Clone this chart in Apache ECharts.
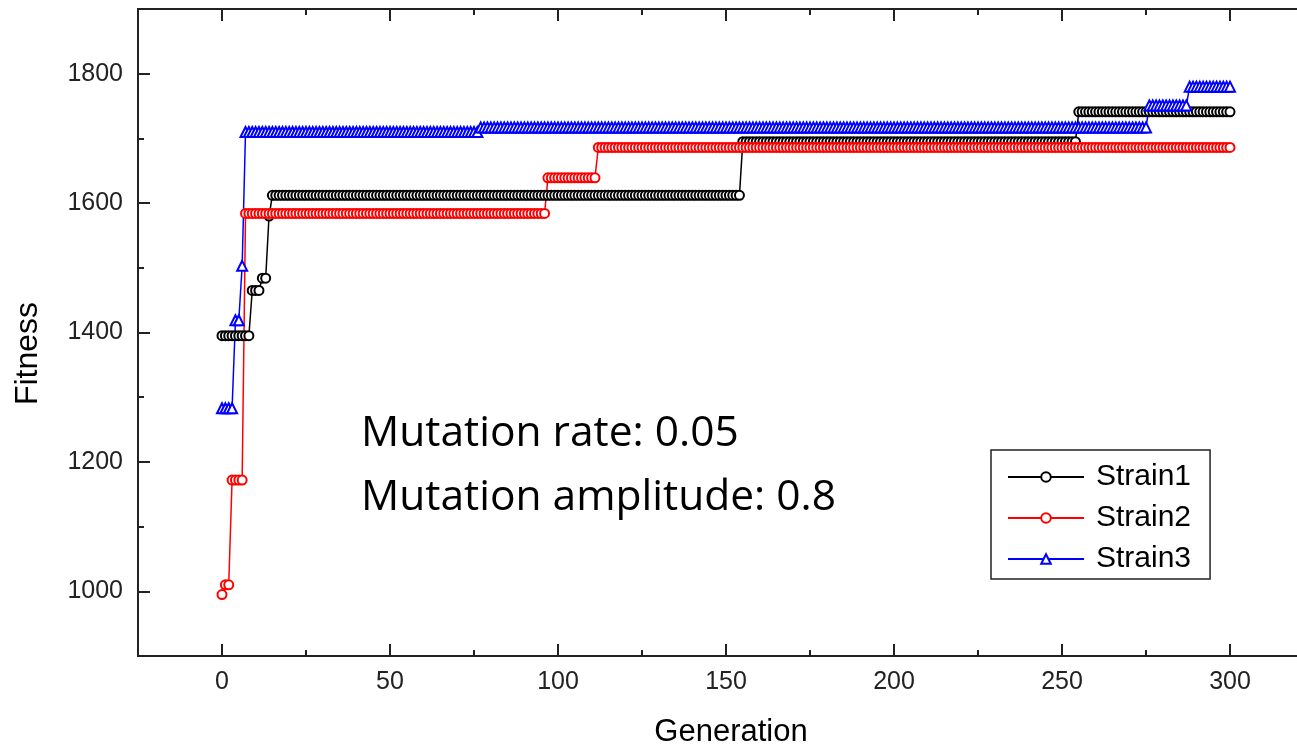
<!DOCTYPE html>
<html>
<head>
<meta charset="utf-8">
<script src="https://cdn.jsdelivr.net/npm/echarts@6/dist/echarts.min.js"></script>
<style>
html,body{margin:0;padding:0;background:#fff;}
#chart{width:1297px;height:746px;}
</style>
</head>
<body>
<div id="chart"></div>
<script>
// Generations plotted (one marker per generation)
const lastGeneration = 300;
// Step runs: generation where a level starts, and its fitness
const strain1Start = [0, 9, 12, 14, 15, 155, 255];
const strain1Value = [1395, 1465, 1484, 1580, 1612, 1695, 1741];
const strain2Start = [0, 1, 3, 7, 97, 112];
const strain2Value = [995, 1010, 1172, 1584, 1639, 1686];
const strain3Start = [0, 4, 6, 7, 77, 276, 288];
const strain3Value = [1283, 1419, 1503, 1710, 1717, 1751, 1780];

const seriesNames = ['Strain1', 'Strain2', 'Strain3'];
const xMajorTicks = [0, 50, 100, 150, 200, 250, 300];
const xMinorTicks = [25, 75, 125, 175, 225, 275];
const yMajorTicks = [1000, 1200, 1400, 1600, 1800];
const yMinorTicks = [1100, 1300, 1500, 1700];
const annotation = ['Mutation rate: 0.05', 'Mutation amplitude: 0.8'];

function expandRuns(starts, values) {
  const out = [];
  for (let g = 0; g <= lastGeneration; g++) {
    let k = 0;
    while (k + 1 < starts.length && starts[k + 1] <= g) k++;
    out.push([g, values[k]]);
  }
  return out;
}

const axisColor = '#222';
const fontFam = '"Liberation Sans", Arial, sans-serif';
const XMIN = -25, XMAX = 325, YMIN = 900, YMAX = 1900;
const plain = function (v) { return String(v); };

function xAx(pos, ticks, len, labels) {
  return {
    type: 'value', position: pos, min: XMIN, max: XMAX,
    axisLine: { show: true, onZero: false, lineStyle: { color: axisColor, width: 2 } },
    axisTick: { show: true, inside: true, length: len, customValues: ticks, lineStyle: { color: axisColor, width: 2 } },
    axisLabel: labels ? { show: true, customValues: ticks, formatter: plain, margin: 14, fontSize: 25, color: '#222', fontFamily: fontFam } : { show: false },
    splitLine: { show: false }
  };
}
function yAx(ticks, len, labels) {
  return {
    type: 'value', position: 'left', min: YMIN, max: YMAX,
    axisLine: { show: true, onZero: false, lineStyle: { color: axisColor, width: 2 } },
    axisTick: { show: true, inside: true, length: len, customValues: ticks, lineStyle: { color: axisColor, width: 2 } },
    axisLabel: labels ? { show: true, customValues: ticks, formatter: plain, margin: 15, fontSize: 25, color: '#222', fontFamily: fontFam } : { show: false },
    splitLine: { show: false }
  };
}

const xMain = xAx('bottom', xMajorTicks, 12, true);
xMain.name = 'Generation';
xMain.nameLocation = 'middle';
xMain.nameGap = 61;
xMain.nameTextStyle = { fontSize: 31, color: '#000', fontFamily: fontFam, padding: [0, 0, 0, 10] };

const yMain = yAx(yMajorTicks, 12, true);
yMain.name = 'Fitness';
yMain.nameLocation = 'middle';
yMain.nameRotate = 90;
yMain.nameGap = 94;
yMain.nameTextStyle = { fontSize: 32, color: '#000', fontFamily: fontFam, padding: [0, 42, 0, 0] };

function lineSeries(name, data, color, symbol, size) {
  return {
    name: name, type: 'line', xAxisIndex: 0, yAxisIndex: 0,
    data: data,
    symbol: symbol, symbolSize: size, showSymbol: true, showAllSymbol: true,
    lineStyle: { color: color, width: 1.5 },
    itemStyle: { color: color, borderWidth: 1 },
    emphasis: { disabled: true },
    animation: false
  };
}

const chart = echarts.init(document.getElementById('chart'), null, { renderer: 'canvas' });
chart.setOption({
  backgroundColor: '#fff',
  animation: false,
  grid: { left: 138, top: 9, right: -17, bottom: 90, containLabel: false, outerBoundsMode: 'none' },
  xAxis: [xMain, xAx('bottom', xMinorTicks, 6, false), xAx('top', xMajorTicks, 12, false), xAx('top', xMinorTicks, 6, false)],
  yAxis: [yMain, yAx(yMinorTicks, 6, false)],
  legend: {
    orient: 'vertical', left: 991, top: 450,
    data: seriesNames,
    itemWidth: 76, itemHeight: 12, itemGap: 11,
    padding: [12, 19, 5, 16],
    borderColor: '#222', borderWidth: 1.5,
    textStyle: { fontSize: 30, lineHeight: 30, color: '#000', fontFamily: fontFam, padding: [0, 0, 0, 7] }
  },
  graphic: [{
    type: 'text', left: 361, top: 402,
    style: { text: annotation.join('\n'), fontSize: 42.5, lineHeight: 64, fontFamily: '"Open Sans", "Noto Sans", sans-serif', fill: '#000' }
  }],
  series: [
    lineSeries(seriesNames[0], expandRuns(strain1Start, strain1Value), '#000000', 'emptyCircle', 9),
    lineSeries(seriesNames[1], expandRuns(strain2Start, strain2Value), '#ff0000', 'emptyCircle', 9),
    lineSeries(seriesNames[2], expandRuns(strain3Start, strain3Value), '#0000ff', 'emptyTriangle', 10)
  ]
});
</script>
</body>
</html>
